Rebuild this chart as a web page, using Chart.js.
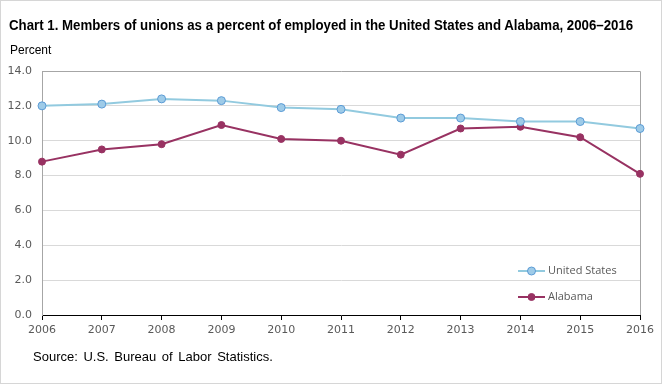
<!DOCTYPE html>
<html>
<head>
<meta charset="utf-8">
<script src="https://cdn.jsdelivr.net/npm/chart.js@4"></script>
<style>
  body { margin: 0; background: #fff; }
  #wrap { position: relative; width: 662px; height: 384px; overflow: hidden; font-family: "Liberation Sans", Arial, sans-serif; color: #000; }
  #chart { position: absolute; left: 0; top: 0; }
  #frame { position: absolute; left: 0; top: 0; width: 660px; height: 382px; border: 1px solid #d6d6d6; pointer-events: none; }
  #title { position: absolute; left: 9px; top: 18px; font-size: 14px; font-weight: bold; line-height: 1; white-space: nowrap; transform-origin: 0 0; }
  #unit { position: absolute; left: 10px; top: 44px; font-size: 12px; line-height: 1; }
  #source { position: absolute; left: 33px; top: 350px; font-size: 13px; line-height: 1; word-spacing: 2px; }
</style>
</head>
<body>
<div id="wrap">
  <canvas id="chart" width="662" height="384"></canvas>
  <div id="title">Chart 1. Members of unions as a percent of employed in the United States and Alabama, 2006–2016</div>
  <div id="unit">Percent</div>
  <div id="source">Source: U.S. Bureau of Labor Statistics.</div>
  <div id="frame"></div>
</div>
<script>
// Data
const years = ['2006', '2007', '2008', '2009', '2010', '2011', '2012', '2013', '2014', '2015', '2016'];
const usRate = [12.0, 12.1, 12.4, 12.3, 11.9, 11.8, 11.3, 11.3, 11.1, 11.1, 10.7];
const alRate = [8.8, 9.5, 9.8, 10.9, 10.1, 10.0, 9.2, 10.7, 10.8, 10.2, 8.1];
const seriesNames = ['United States', 'Alabama'];
const yMin = 0, yMax = 14, yStep = 2;

const tickFont = { family: 'DejaVu Sans', size: 11 };
const tickColor = '#595959';

// top + right edge of plot box
const plotFrame = {
  id: 'plotFrame',
  beforeDatasetsDraw(chart) {
    const { ctx, chartArea: a } = chart;
    ctx.save();
    ctx.strokeStyle = '#a6a6a6';
    ctx.lineWidth = 1;
    ctx.beginPath();
    ctx.moveTo(a.left, a.top + 0.5);
    ctx.lineTo(a.right + 0.5, a.top + 0.5);
    ctx.lineTo(a.right + 0.5, a.bottom);
    ctx.stroke();
    ctx.restore();
  }
};

// legend inside plot, bottom right
const insideLegend = {
  id: 'insideLegend',
  afterDraw(chart) {
    const { ctx } = chart;
    const x0 = 518, x1 = 545, rows = [271, 297];
    ctx.save();
    chart.data.datasets.forEach((ds, i) => {
      const y = rows[i];
      ctx.strokeStyle = ds.borderColor;
      ctx.lineWidth = 2;
      ctx.beginPath();
      ctx.moveTo(x0, y);
      ctx.lineTo(x1, y);
      ctx.stroke();
      ctx.beginPath();
      ctx.arc((x0 + x1) / 2, y, ds.pointRadius, 0, Math.PI * 2);
      ctx.fillStyle = ds.pointBackgroundColor;
      ctx.fill();
      ctx.lineWidth = 1;
      ctx.strokeStyle = ds.pointBorderColor;
      ctx.stroke();
      ctx.fillStyle = tickColor;
      ctx.font = '11px "Open Sans", "Liberation Sans", sans-serif';
      ctx.textBaseline = 'middle';
      ctx.textAlign = 'left';
      ctx.fillText(ds.label, x1 + 3, y);
    });
    ctx.restore();
  }
};

new Chart(document.getElementById('chart'), {
  type: 'line',
  data: {
    labels: years,
    datasets: [
      { label: seriesNames[0], data: usRate, borderColor: '#92cadf', borderWidth: 2,
        pointRadius: 4, pointBackgroundColor: '#9ecbe8', pointBorderColor: '#5b9bd5', pointBorderWidth: 1, tension: 0 },
      { label: seriesNames[1], data: alRate, borderColor: '#983262', borderWidth: 2,
        pointRadius: 3.5, pointBackgroundColor: '#983262', pointBorderColor: '#983262', pointBorderWidth: 1, tension: 0 }
    ]
  },
  options: {
    responsive: false,
    animation: false,
    layout: { padding: { left: 0, top: 71, right: 22, bottom: 44 } },
    plugins: { legend: { display: false }, tooltip: { enabled: false } },
    scales: {
      x: {
        type: 'category',
        offset: false,
        grid: { drawOnChartArea: false, drawTicks: true, tickLength: 5, tickColor: '#000' },
        border: { color: '#000', width: 1 },
        ticks: { color: tickColor, font: tickFont, padding: 4, maxRotation: 0, autoSkip: false },
        afterFit: s => { s.height = 25; }
      },
      y: {
        min: yMin,
        max: yMax,
        grid: {
          drawTicks: false,
          color: c => (c.tick.value === yMin || c.tick.value === yMax) ? 'rgba(0,0,0,0)' : '#d9d9d9'
        },
        border: { color: '#a6a6a6', width: 1 },
        ticks: { stepSize: yStep, color: tickColor, font: tickFont, padding: 10, callback: v => v.toFixed(1) },
        afterFit: s => { s.width = 42; }
      }
    }
  },
  plugins: [plotFrame, insideLegend]
});

// fit condensed-looking title to its width
const title = document.getElementById('title');
title.style.transform = 'scaleX(' + (624 / title.offsetWidth) + ')';
</script>
</body>
</html>
